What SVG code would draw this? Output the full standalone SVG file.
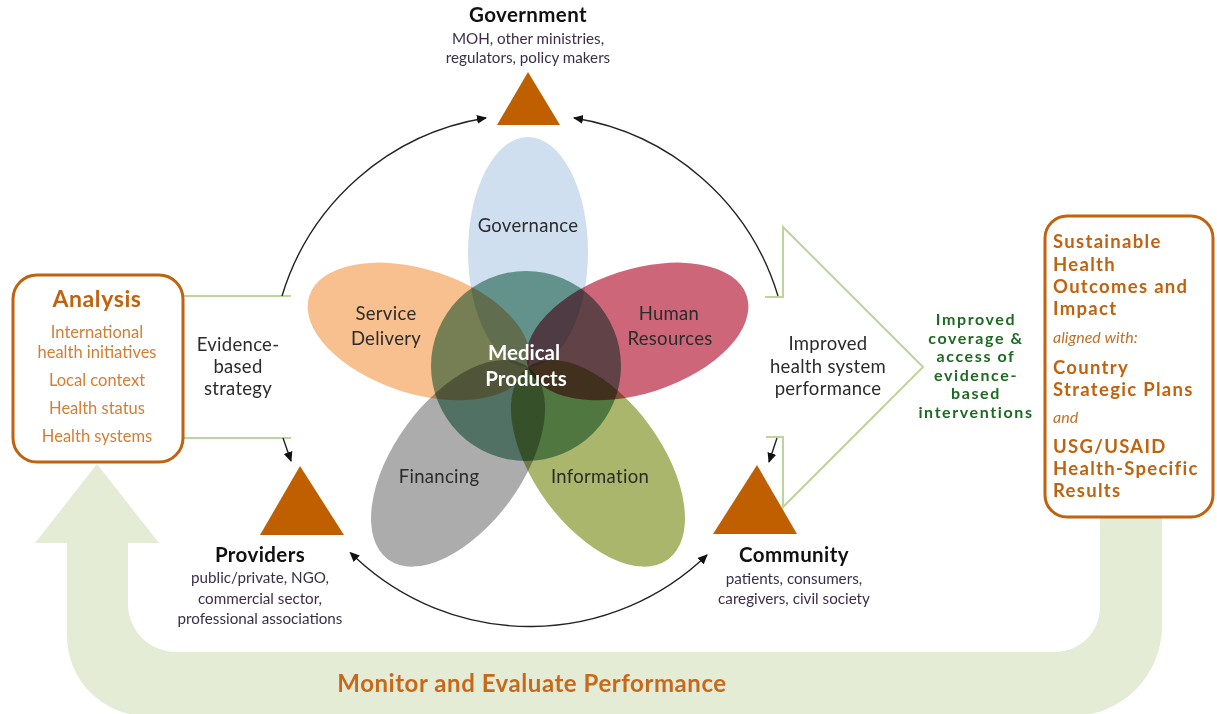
<svg xmlns="http://www.w3.org/2000/svg" width="1217" height="714" viewBox="0 0 1217 714">
<defs>
<style>
.t{font-family:Lato,"Open Sans","DejaVu Sans",sans-serif;}
.dk{fill:#2b2b2b;font-size:18.5px;letter-spacing:0.3px;text-anchor:middle;}
.hd{fill:#111;font-size:20.5px;font-weight:bold;letter-spacing:0.4px;text-anchor:middle;}
.sb{fill:#3a2f4a;font-size:15.2px;text-anchor:middle;}
.an{fill:#d47e34;font-size:16.5px;text-anchor:middle;}
.or{fill:#c0620e;font-size:18.5px;font-weight:bold;letter-spacing:1.3px;}
.it{fill:#c0702a;font-size:16px;font-style:italic;}
.gr{fill:#1d6a22;font-size:16px;font-weight:bold;letter-spacing:1.6px;text-anchor:middle;}
.petal{mix-blend-mode:multiply;}
.arc{fill:none;stroke:#222;stroke-width:1.4;}
.gl{fill:none;stroke:#bcd59a;stroke-width:2;}
.tri{fill:#c05f00;}
</style>
<marker id="ah" viewBox="0 0 10 10" refX="9" refY="5" markerWidth="10" markerHeight="10" markerUnits="userSpaceOnUse" orient="auto"><path d="M0,0.5 L10,5 L0,9.5 Z" fill="#111"/></marker>
<marker id="ahs" viewBox="0 0 10 10" refX="1" refY="5" markerWidth="10" markerHeight="10" markerUnits="userSpaceOnUse" orient="auto-start-reverse"><path d="M0,0.5 L10,5 L0,9.5 Z" fill="#111"/></marker>
</defs>
<rect width="1217" height="714" fill="#fff"/>

<g id="monitor-arrow">
<path d="M97 464 L159 543 L128 543 L128 604 A48 48 0 0 0 176 652 L1055 652 A45 45 0 0 0 1100 607 L1100 505 L1162 505 L1162 626 A90 90 0 0 1 1072 716 L147 716 A80 80 0 0 1 67 636 L67 543 L35 543 Z" fill="#e4ecd6"/>
<text class="t" x="532" y="692" font-size="24" font-weight="bold" letter-spacing="0.55" fill="#c8681a" text-anchor="middle">Monitor and Evaluate Performance</text>
</g>

<g id="connectors">
<line class="gl" x1="183" y1="296" x2="291" y2="296"/>
<line class="gl" x1="183" y1="438" x2="291" y2="438"/>
<polyline class="gl" points="765,297 783,297 783,227 923,367 783,507 783,437 766,437" stroke-width="1.5"/>
<path class="arc" d="M282 296 A255 255 0 0 1 486 118" marker-end="url(#ah)"/>
<path class="arc" d="M778 296 A255 255 0 0 0 574 118" marker-end="url(#ah)"/>
<path class="arc" d="M283 438 L291 461" marker-end="url(#ah)"/>
<path class="arc" d="M777 438 L769 462" marker-end="url(#ah)"/>
<path class="arc" d="M356 558 A255 255 0 0 0 707 555" marker-start="url(#ahs)" marker-end="url(#ah)"/>
</g>

<g id="flower">
<g transform="translate(528,367)">
<ellipse class="petal" cx="0" cy="-115" rx="60" ry="115" fill="#d0dff0"/>
<ellipse class="petal" cx="0" cy="-115" rx="62" ry="115" fill="#f9c08f" transform="rotate(-72)"/>
<ellipse class="petal" cx="0" cy="-115" rx="62" ry="115" fill="#cd6679" transform="rotate(72)"/>
<ellipse class="petal" cx="0" cy="-119" rx="64" ry="119" fill="#acacac" transform="rotate(-144)"/>
<ellipse class="petal" cx="0" cy="-119" rx="64" ry="119" fill="#a9b66b" transform="rotate(144)"/>
<circle class="petal" cx="-2" cy="-1" r="95" fill="#79a795"/>
</g>
</g>

<g id="governance"><text class="t dk" x="528" y="232">Governance</text></g>
<g id="service-delivery"><text class="t dk" x="386" y="320">Service</text><text class="t dk" x="386" y="345">Delivery</text></g>
<g id="human-resources"><text class="t dk" x="669" y="320">Human</text><text class="t dk" x="670" y="345">Resources</text></g>
<g id="medical-products"><text class="t" x="524" y="360" font-size="20.5" font-weight="bold" fill="#fff" text-anchor="middle">Medical</text><text class="t" x="526" y="386" font-size="20.5" font-weight="bold" fill="#fff" text-anchor="middle">Products</text></g>
<g id="financing"><text class="t dk" x="439" y="483">Financing</text></g>
<g id="information"><text class="t dk" x="600" y="483">Information</text></g>

<g id="government">
<polygon class="tri" points="528,72 497,125 560,125"/>
<text class="t hd" x="528" y="22">Government</text>
<text class="t sb" x="528" y="44" font-size="15">MOH, other ministries,</text>
<text class="t sb" x="528" y="63">regulators, policy makers</text>
</g>

<g id="providers">
<polygon class="tri" points="300,466 260,535 344,535"/>
<text class="t hd" x="260" y="562">Providers</text>
<text class="t sb" x="260" y="583">public/private, NGO,</text>
<text class="t sb" x="260" y="604">commercial sector,</text>
<text class="t sb" x="260" y="624">professional associations</text>
</g>

<g id="community">
<polygon class="tri" points="757,465 713,534 797,534"/>
<text class="t hd" x="794" y="562">Community</text>
<text class="t sb" x="794" y="584">patients, consumers,</text>
<text class="t sb" x="794" y="604">caregivers, civil society</text>
</g>

<g id="analysis">
<rect x="13" y="275" width="170" height="187" rx="24" fill="#fff" stroke="#c0620e" stroke-width="3"/>
<text class="t" x="97" y="307" font-size="23" font-weight="bold" letter-spacing="0.6" fill="#c0620e" text-anchor="middle">Analysis</text>
<text class="t an" x="97" y="338">International</text>
<text class="t an" x="97" y="358">health initiatives</text>
<text class="t an" x="97" y="386">Local context</text>
<text class="t an" x="97" y="414">Health status</text>
<text class="t an" x="97" y="442">Health systems</text>
</g>

<g id="evidence-strategy">
<text class="t dk" x="238" y="351" font-size="17" letter-spacing="0">Evidence-</text>
<text class="t dk" x="238" y="373" font-size="17" letter-spacing="0">based</text>
<text class="t dk" x="238" y="395" font-size="17" letter-spacing="0">strategy</text>
</g>

<g id="performance">
<text class="t dk" x="828" y="350" font-size="16" letter-spacing="0">Improved</text>
<text class="t dk" x="828" y="373" font-size="16" letter-spacing="0">health system</text>
<text class="t dk" x="828" y="395" font-size="16" letter-spacing="0">performance</text>
</g>

<g id="coverage">
<text class="t gr" x="976" y="325">Improved</text>
<text class="t gr" x="976" y="344">coverage &amp;</text>
<text class="t gr" x="976" y="362">access of</text>
<text class="t gr" x="976" y="381">evidence-</text>
<text class="t gr" x="976" y="399">based</text>
<text class="t gr" x="976" y="418">interventions</text>
</g>

<g id="outcomes">
<rect x="1045" y="216" width="168" height="301" rx="22" fill="#fff" stroke="#c0620e" stroke-width="3"/>
<text class="t or" x="1053" y="248">Sustainable</text>
<text class="t or" x="1053" y="271">Health</text>
<text class="t or" x="1053" y="293">Outcomes and</text>
<text class="t or" x="1053" y="315">Impact</text>
<text class="t it" x="1053" y="343">aligned with:</text>
<text class="t or" x="1053" y="374">Country</text>
<text class="t or" x="1053" y="396">Strategic Plans</text>
<text class="t it" x="1053" y="423">and</text>
<text class="t or" x="1053" y="453">USG/USAID</text>
<text class="t or" x="1053" y="475">Health-Specific</text>
<text class="t or" x="1053" y="497">Results</text>
</g>
</svg>
